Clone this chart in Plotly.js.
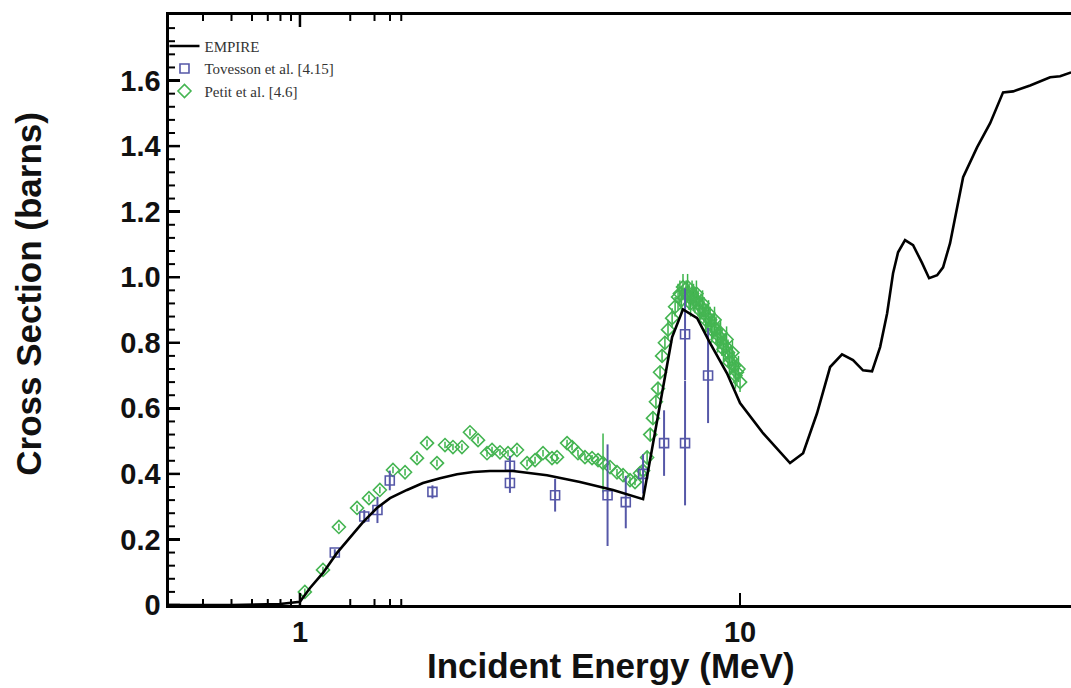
<!DOCTYPE html>
<html>
<head>
<meta charset="utf-8">
<script src="https://cdn.plot.ly/plotly-3.0.1.min.js"></script>
<style>html,body{margin:0;padding:0;background:#fff;}#chart{width:1071px;height:688px;}</style>
</head>
<body>
<div id="chart"></div>
<script>
// EMPIRE evaluation
const empireE = [0.5, 0.7, 0.9, 1.0, 1.054, 1.128, 1.214, 1.299, 1.391, 1.496, 1.602, 1.751, 1.903, 2.081, 2.275, 2.474, 2.703, 3.049, 3.642, 4.329, 5.145, 6.02, 7.008, 7.42, 7.99, 8.55, 9.34, 10.0, 11.28, 12.99, 13.91, 14.96, 16.02, 17.05, 18.06, 19.03, 19.95, 20.81, 21.59, 22.27, 22.86, 23.71, 24.73, 25.93, 26.89, 28.05, 28.93, 30.01, 31.13, 32.13, 34.56, 37.01, 39.6, 41.74, 45.62, 50.65, 53.38, 56.53];
const empireXS = [0, 0, 0.003, 0.010, 0.052, 0.098, 0.159, 0.207, 0.253, 0.296, 0.326, 0.351, 0.372, 0.387, 0.399, 0.406, 0.409, 0.409, 0.396, 0.375, 0.351, 0.323, 0.817, 0.902, 0.875, 0.799, 0.707, 0.616, 0.524, 0.433, 0.463, 0.585, 0.726, 0.765, 0.747, 0.716, 0.713, 0.787, 0.890, 1.012, 1.076, 1.113, 1.098, 1.043, 0.997, 1.006, 1.030, 1.104, 1.213, 1.305, 1.396, 1.470, 1.564, 1.567, 1.585, 1.610, 1.613, 1.625];

// Tovesson et al. [4.15]
const tovE   = [1.20, 1.40, 1.50, 1.60, 2.00, 3.00, 3.00, 3.80, 5.00, 5.50, 6.02, 6.72, 7.50, 7.50, 8.46];
const tovXS  = [0.16, 0.27, 0.29, 0.38, 0.345, 0.425, 0.372, 0.335, 0.335, 0.314, 0.40, 0.494, 0.494, 0.826, 0.70];
const tovErr = [0.01, 0.02, 0.04, 0.03, 0.02, 0.03, 0.03, 0.05, 0.155, 0.08, 0.06, 0.10, 0.19, 0.14, 0.145];

// Petit et al. [4.6]
const petE = [1.026, 1.128, 1.226, 1.348, 1.435, 1.519, 1.627, 1.733, 1.845, 1.944, 2.048, 2.136, 2.227, 2.334, 2.434, 2.539, 2.661, 2.732, 2.848, 2.970, 3.113, 3.281, 3.421, 3.567, 3.739, 3.838, 4.045, 4.152, 4.283, 4.443, 4.610, 4.757, 4.883, 5.065, 5.253, 5.422, 5.623, 5.772, 5.926, 6.02, 6.15, 6.25, 6.34, 6.44, 6.51, 6.58, 6.65, 6.75, 6.86, 7.01, 7.12, 7.23, 7.30, 7.36, 7.42, 7.54, 7.60, 7.66, 7.72, 7.78, 7.84, 7.90, 7.96, 8.03, 8.09, 8.15, 8.22, 8.28, 8.35, 8.41, 8.48, 8.55, 8.62, 8.68, 8.75, 8.82, 8.89, 8.96, 9.03, 9.10, 9.17, 9.25, 9.32, 9.39, 9.46, 9.54, 9.61, 9.69, 9.76, 9.84, 9.92, 10.0];
const petXS = [0.04, 0.107, 0.238, 0.296, 0.326, 0.351, 0.412, 0.405, 0.448, 0.494, 0.433, 0.488, 0.482, 0.482, 0.527, 0.503, 0.463, 0.473, 0.466, 0.463, 0.473, 0.433, 0.442, 0.463, 0.448, 0.451, 0.494, 0.482, 0.463, 0.451, 0.448, 0.442, 0.433, 0.421, 0.405, 0.396, 0.381, 0.375, 0.402, 0.41, 0.45, 0.52, 0.57, 0.62, 0.66, 0.71, 0.76, 0.80, 0.84, 0.875, 0.91, 0.94, 0.95, 0.93, 0.97, 0.95, 0.97, 0.94, 0.92, 0.95, 0.94, 0.93, 0.95, 0.92, 0.90, 0.91, 0.92, 0.90, 0.87, 0.88, 0.89, 0.87, 0.84, 0.85, 0.87, 0.84, 0.81, 0.82, 0.83, 0.80, 0.78, 0.79, 0.81, 0.77, 0.74, 0.75, 0.77, 0.73, 0.70, 0.71, 0.72, 0.68];
const petErr = [0.01, 0.01, 0.01, 0.01, 0.01, 0.01, 0.01, 0.01, 0.01, 0.01, 0.01, 0.01, 0.01, 0.01, 0.01, 0.01, 0.01, 0.01, 0.01, 0.01, 0.01, 0.01, 0.01, 0.01, 0.01, 0.01, 0.01, 0.01, 0.01, 0.01, 0.01, 0.01, 0.09, 0.01, 0.01, 0.01, 0.01, 0.01, 0.01, 0.02, 0.02, 0.02, 0.02, 0.02, 0.02, 0.02, 0.02, 0.02, 0.03, 0.03, 0.03, 0.04, 0.04, 0.04, 0.04, 0.04, 0.04, 0.04, 0.04, 0.04, 0.04, 0.04, 0.04, 0.04, 0.04, 0.04, 0.04, 0.04, 0.04, 0.04, 0.04, 0.04, 0.04, 0.04, 0.04, 0.04, 0.04, 0.04, 0.04, 0.04, 0.04, 0.04, 0.04, 0.04, 0.04, 0.04, 0.04, 0.04, 0.04, 0.04, 0.04, 0.03];

// Tick positions
const xMajorTicks = [1, 10];
const xMinorTicks = [0.6, 0.7, 0.8, 0.9, 2, 3, 4, 5, 6, 7, 8, 9, 20, 30, 40, 50];
const yMajorTicks = [0, 0.2, 0.4, 0.6, 0.8, 1.0, 1.2, 1.4, 1.6];
const yMinorTicks = [0.04, 0.08, 0.12, 0.16, 0.24, 0.28, 0.32, 0.36, 0.44, 0.48, 0.52, 0.56, 0.64, 0.68, 0.72, 0.76, 0.84, 0.88, 0.92, 0.96, 1.04, 1.08, 1.12, 1.16, 1.24, 1.28, 1.32, 1.36, 1.44, 1.48, 1.52, 1.56, 1.64, 1.68, 1.72, 1.76];

const tickFont = {family: 'Liberation Sans, Arial, Helvetica, sans-serif', size: 29, color: '#111', weight: 'bold'};
const titleFont = {family: 'Liberation Sans, Arial, Helvetica, sans-serif', size: 35, color: '#111', weight: 'bold'};

const traces = [
  {
    x: petE, y: petXS, name: 'Petit et al. [4.6]', type: 'scatter', mode: 'markers',
    legendrank: 3,
    marker: {symbol: 'diamond-open', size: 10, color: '#45b552', line: {width: 1.6, color: '#45b552'}},
    error_y: {type: 'data', array: petErr, color: '#3bb44a', thickness: 1.5, width: 0}
  },
  {
    x: tovE, y: tovXS, name: 'Tovesson et al. [4.15]', type: 'scatter', mode: 'markers',
    legendrank: 2,
    marker: {symbol: 'square-open', size: 9, color: '#5658a8', line: {width: 1.6, color: '#5658a8'}},
    error_y: {type: 'data', array: tovErr, color: '#5658a8', thickness: 2, width: 0}
  },
  {
    x: empireE, y: empireXS, name: 'EMPIRE', type: 'scatter', mode: 'lines',
    legendrank: 1,
    line: {color: '#000', width: 2.6}
  }
];

// Inward tick marks drawn as axis-referenced shapes (pixel length)
const tickShapes = [];
function xTick(v, len, w) {
  // bottom
  tickShapes.push({type: 'line', xref: 'x', yref: 'paper', x0: Math.log10(v), x1: Math.log10(v),
    ysizemode: 'pixel', yanchor: 0, y0: 0, y1: len, line: {color: '#000', width: w}, layer: 'above'});
  // top (mirrored)
  tickShapes.push({type: 'line', xref: 'x', yref: 'paper', x0: Math.log10(v), x1: Math.log10(v),
    ysizemode: 'pixel', yanchor: 1, y0: 0, y1: -len, line: {color: '#000', width: w}, layer: 'above'});
}
function yTick(v, len, w) {
  tickShapes.push({type: 'line', xref: 'paper', yref: 'y', y0: v, y1: v,
    xsizemode: 'pixel', xanchor: 0, x0: 0, x1: len, line: {color: '#000', width: w}, layer: 'above'});
}
xMajorTicks.forEach(v => xTick(v, 12, 2.5));
xMinorTicks.forEach(v => xTick(v, 6, 2));
yMajorTicks.forEach(v => yTick(v, 11, 2.5));
yMinorTicks.forEach(v => yTick(v, 6, 2));

const layout = {
  width: 1071, height: 688,
  margin: {l: 169, r: 0, t: 15, b: 83, pad: 0},
  paper_bgcolor: '#fff', plot_bgcolor: '#fff',
  showlegend: true,
  legend: {
    x: -0.005, y: 0.975, xanchor: 'left', yanchor: 'top',
    bgcolor: 'rgba(0,0,0,0)', borderwidth: 0,
    font: {family: 'Liberation Serif, Times New Roman, serif', size: 15, color: '#333'},
    itemwidth: 30, tracegroupgap: 0, traceorder: 'normal'
  },
  xaxis: {
    type: 'log', range: [Math.log10(0.504), Math.log10(56.5)],
    tickmode: 'array', tickvals: xMajorTicks, ticktext: ['1', '10'],
    ticks: 'inside', ticklen: 12, tickwidth: 2.5, tickcolor: '#000',
    showline: true, linecolor: '#000', linewidth: 2.6, mirror: true,
    showgrid: false, zeroline: false,
    tickfont: tickFont
  },
  yaxis: {
    range: [0, 1.8],
    tickmode: 'array', tickvals: yMajorTicks,
    ticktext: ['0', '0.2', '0.4', '0.6', '0.8', '1.0', '1.2', '1.4', '1.6'],
    ticks: 'inside', ticklen: 11, tickwidth: 2.5, tickcolor: '#000',
    showline: true, linecolor: '#000', linewidth: 2.6,
    showgrid: false, zeroline: false,
    tickfont: tickFont
  },
  shapes: tickShapes,
  annotations: [
    {text: 'Incident Energy (MeV)', xref: 'paper', yref: 'paper', x: 0.49, y: -0.103,
     xanchor: 'center', yanchor: 'middle', showarrow: false, font: titleFont},
    {text: 'Cross Section (barns)', xref: 'paper', yref: 'paper', x: -0.156, y: 0.528,
     xanchor: 'center', yanchor: 'middle', textangle: -90, showarrow: false, font: titleFont}
  ]
};

Plotly.newPlot('chart', traces, layout, {displayModeBar: false, staticPlot: true});
</script>
</body>
</html>
